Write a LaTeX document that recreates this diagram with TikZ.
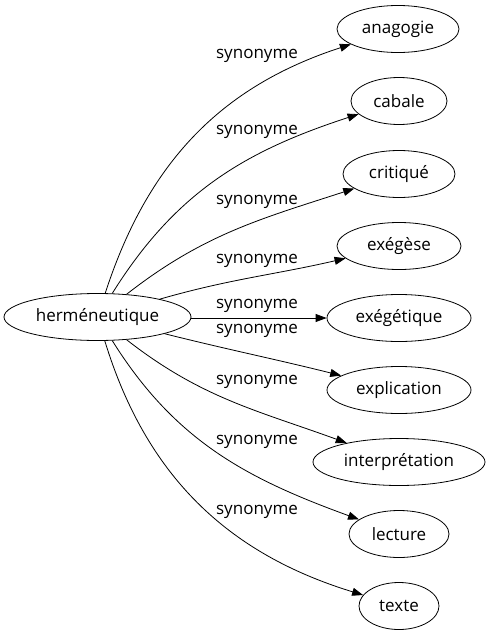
\documentclass[tikz,border=0pt]{standalone}
\usepackage{fontspec}
\setmainfont{Open Sans}
\usetikzlibrary{shapes.geometric,arrows.meta}
\begin{document}
\begin{tikzpicture}[x=1pt,y=-1pt,
  every node/.style={font=\fontsize{17}{20}\selectfont, text=black},
  term/.style={draw, ellipse, inner sep=0pt, minimum height=47pt, line width=0.8pt},
  lbl/.style={inner sep=0pt},
  edge/.style={draw, line width=0.8pt, -{Triangle[length=11pt,width=8pt]}}]
\useasboundingbox (0,0) rectangle (490,635);
\node[term, minimum width=187pt] (h) at (97.5,317) {herméneutique};
\node[term, minimum width=122pt] (a) at (398,29) {anagogie};
\node[term, minimum width=96pt] (b) at (399,101) {cabale};
\node[term, minimum width=112pt] (c) at (399,174) {critiqué};
\node[term, minimum width=124pt] (d) at (399,246) {exégèse};
\node[term, minimum width=144pt] (e) at (399,318) {exégétique};
\node[term, minimum width=144pt] (f) at (399,390) {explication};
\node[term, minimum width=172pt] (g) at (399,462) {interprétation};
\node[term, minimum width=100pt] (i) at (399,534) {lecture};
\node[term, minimum width=80pt] (j) at (399,606) {texte};
\draw[edge] (h) to[out=72, in=198] (a);
\draw[edge] (h) to[out=58, in=198] (b);
\draw[edge] (h) to[out=38, in=198] (c);
\draw[edge] (h) to[out=16, in=193] (d);
\draw[edge] (h.east |- e) -- (e);
\draw[edge] (h) to[out=-14, in=166] (f);
\draw[edge] (h) to[out=-38, in=160] (g);
\draw[edge] (h) to[out=-58, in=160] (i);
\draw[edge] (h) to[out=-73, in=163] (j);
\node[lbl] (l1) at (257,56) {synonyme};
\node[lbl] (l2) at (257,132) {synonyme};
\node[lbl] (l3) at (257,202) {synonyme};
\node[lbl] (l4) at (257,261) {synonyme};
\node[lbl] (l5) at (257,306) {synonyme};
\node[lbl] (l6) at (257,331) {synonyme};
\node[lbl] (l7) at (257,382) {synonyme};
\node[lbl] (l8) at (257,442) {synonyme};
\node[lbl] (l9) at (257,512) {synonyme};
\end{tikzpicture}
\end{document}
